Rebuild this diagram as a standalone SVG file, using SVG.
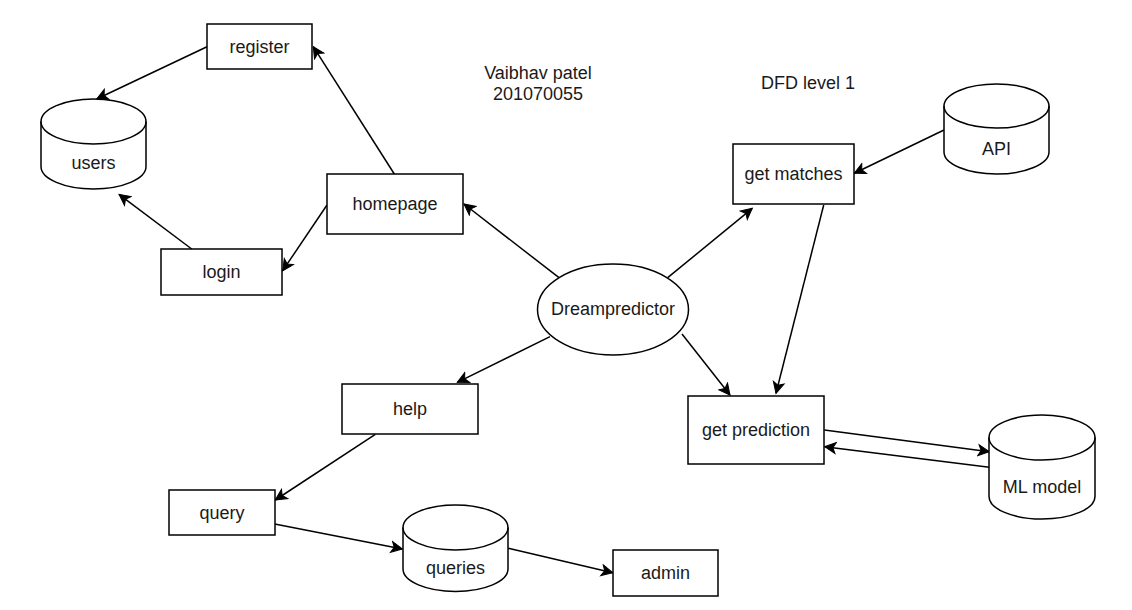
<svg xmlns="http://www.w3.org/2000/svg" width="1132" height="610" viewBox="0 0 1132 610">
<style>
.box{fill:#fff;stroke:#000;stroke-width:1.5}
.t{font-family:"Liberation Sans",Arial,Helvetica,sans-serif;font-size:18px;fill:#1a1a1a;text-anchor:middle}
.c{fill:none;stroke:#000;stroke-width:1.5;marker-end:url(#arr)}
</style>
<defs>
<marker id="arr" markerUnits="userSpaceOnUse" markerWidth="14" markerHeight="14" refX="12" refY="6" orient="auto" viewBox="0 0 14 12">
<path d="M12,6 L1,0.5 L3.8,6 L1,11.5 Z" fill="#000" stroke="#000" stroke-width="1"/>
</marker>
</defs>
<rect width="1132" height="610" fill="#fff"/>

<g id="connectors">
<line class="c" x1="207" y1="46.7" x2="96.7" y2="99"/>
<line class="c" x1="394.3" y1="174" x2="313.3" y2="46.7"/>
<line class="c" x1="327" y1="205" x2="282.7" y2="270.7"/>
<line class="c" x1="191.7" y1="249" x2="119" y2="194.3"/>
<line class="c" x1="559" y1="277.7" x2="464" y2="204"/>
<line class="c" x1="667.7" y1="277.7" x2="752.3" y2="208.3"/>
<line class="c" x1="944" y1="130" x2="854.3" y2="173.3"/>
<line class="c" x1="823.7" y1="205" x2="776" y2="393.3"/>
<line class="c" x1="682" y1="334" x2="730" y2="395"/>
<line class="c" x1="824.3" y1="430" x2="989.3" y2="451.7"/>
<line class="c" x1="989.3" y1="467.3" x2="824.7" y2="446.7"/>
<line class="c" x1="550" y1="336.7" x2="457.3" y2="382.3"/>
<line class="c" x1="375.3" y1="434.3" x2="275.3" y2="500"/>
<line class="c" x1="274.7" y1="524" x2="402.3" y2="549"/>
<line class="c" x1="508.3" y1="548.3" x2="612.7" y2="572.7"/>
</g>

<g id="register">
<rect class="box" x="207" y="24" width="105" height="45"/>
<text class="t" x="259.5" y="52.5">register</text>
</g>
<g id="users">
<path class="box" d="M41,121.5 A52.5,22.5 0 0 1 146,121.5 L146,166.5 A52.5,22.5 0 0 1 41,166.5 Z"/>
<path class="box" style="fill:none" d="M41,121.5 A52.5,22.5 0 0 0 146,121.5"/>
<text class="t" x="93.5" y="169">users</text>
</g>
<g id="homepage">
<rect class="box" x="327" y="174" width="136" height="60"/>
<text class="t" x="395" y="210">homepage</text>
</g>
<g id="login">
<rect class="box" x="161" y="249" width="121" height="46"/>
<text class="t" x="221.5" y="278">login</text>
</g>
<g id="title">
<text class="t" x="538" y="79">Vaibhav patel</text>
<text class="t" x="538" y="100">201070055</text>
</g>
<g id="dfd-label">
<text class="t" x="808" y="89">DFD level 1</text>
</g>
<g id="dreampredictor">
<ellipse class="box" cx="613" cy="309.5" rx="75.5" ry="45.5"/>
<text class="t" x="613" y="315">Dreampredictor</text>
</g>
<g id="get-matches">
<rect class="box" x="733" y="144" width="121" height="60"/>
<text class="t" x="793.5" y="180">get matches</text>
</g>
<g id="api">
<path class="box" d="M944,106 A52.5,22 0 0 1 1049,106 L1049,152 A52.5,22 0 0 1 944,152 Z"/>
<path class="box" style="fill:none" d="M944,106 A52.5,22 0 0 0 1049,106"/>
<text class="t" x="996.5" y="154.5">API</text>
</g>
<g id="get-prediction">
<rect class="box" x="688" y="396" width="136" height="68"/>
<text class="t" x="756" y="436">get prediction</text>
</g>
<g id="ml-model">
<path class="box" d="M989,437.5 A53,22.5 0 0 1 1095,437.5 L1095,496.5 A53,22.5 0 0 1 989,496.5 Z"/>
<path class="box" style="fill:none" d="M989,437.5 A53,22.5 0 0 0 1095,437.5"/>
<text class="t" x="1042" y="493">ML model</text>
</g>
<g id="help">
<rect class="box" x="342" y="384" width="136" height="50"/>
<text class="t" x="410" y="415">help</text>
</g>
<g id="query">
<rect class="box" x="169" y="490" width="106" height="45"/>
<text class="t" x="222" y="518.5">query</text>
</g>
<g id="queries">
<path class="box" d="M403,527.5 A52.5,22.5 0 0 1 508,527.5 L508,569 A52.5,22.5 0 0 1 403,569 Z"/>
<path class="box" style="fill:none" d="M403,527.5 A52.5,22.5 0 0 0 508,527.5"/>
<text class="t" x="455.5" y="574">queries</text>
</g>
<g id="admin">
<rect class="box" x="613" y="550" width="105" height="46"/>
<text class="t" x="665.5" y="579">admin</text>
</g>
</svg>
